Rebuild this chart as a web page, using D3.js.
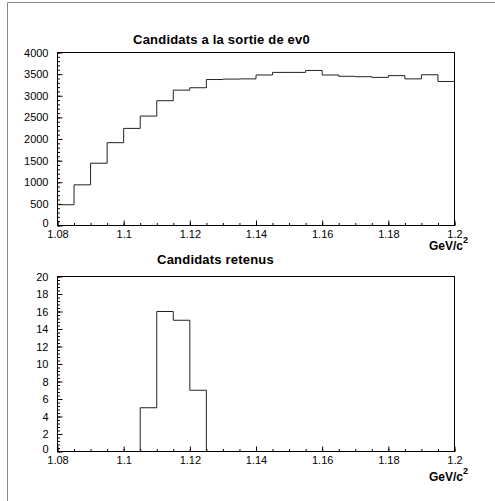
<!DOCTYPE html>
<html>
<head>
<meta charset="utf-8">
<script src="https://cdn.jsdelivr.net/npm/d3@7"></script>
<style>
  body { margin: 0; background: #fff; }
  svg { display: block; font-family: "Liberation Sans", Arial, sans-serif; }
  .axis text { font-size: 11px; fill: #000; }
  .axis line { stroke: #000; }
  .title { font-size: 13px; font-weight: bold; letter-spacing: 0.2px; }
  .unit { font-size: 12px; font-weight: bold; }
</style>
</head>
<body>
<svg id="chart" width="495" height="501"></svg>
<script>
// bin edges: 24 bins of 0.005 GeV/c^2 from 1.08 to 1.2
const binStart = 1.08;
const binWidth = 0.005;

// "Candidats a la sortie de ev0"
const allCandidates = [480, 940, 1440, 1915, 2245, 2530, 2885, 3130, 3185, 3375, 3385, 3390,
                       3480, 3540, 3540, 3585, 3480, 3450, 3440, 3425, 3465, 3390, 3485, 3330];

// "Candidats retenus"
const keptCandidates = [0, 0, 0, 0, 0, 5, 16, 15, 7, 0, 0, 0,
                        0, 0, 0, 0, 0, 0, 0, 0, 0, 0, 0, 0];

const xTicks = [1.08, 1.1, 1.12, 1.14, 1.16, 1.18, 1.2];
const topYTicks = [0, 500, 1000, 1500, 2000, 2500, 3000, 3500, 4000];
const bottomYTicks = [0, 2, 4, 6, 8, 10, 12, 14, 16, 18, 20];

class Histo {

  constructor(_config, _data) {
    this.config = {
      parent: _config.parent,
      left: _config.left,
      top: _config.top,
      width: _config.width,
      height: _config.height,
      title: _config.title,
      titleX: _config.titleX,
      titleY: _config.titleY,
      unitY: _config.unitY,
      yMax: _config.yMax,
      yTicks: _config.yTicks,
      yMinorStep: _config.yMinorStep
    }
    this.data = _data;
    this.initVis();
  }

  initVis() {
    let vis = this;

    vis.xScale = d3.scaleLinear()
        .domain([xTicks[0], xTicks[xTicks.length - 1]])
        .range([0, vis.config.width]);

    vis.yScale = d3.scaleLinear()
        .domain([0, vis.config.yMax])
        .range([vis.config.height, 0]);

    vis.chart = vis.config.parent.append('g')
        .attr('transform', `translate(${vis.config.left},${vis.config.top})`);

    vis.updateVis();
  }

  updateVis() {
    let vis = this;

    // minor ticks every 0.005 on x, yMinorStep on y
    vis.xMinor = d3.range(0, 25).map(i => +(binStart + i * binWidth).toFixed(3));
    vis.yMinor = d3.range(0, vis.config.yMax + 1e-9, vis.config.yMinorStep);

    // step outline of the histogram
    vis.points = [[binStart, 0]];
    vis.data.forEach((v, i) => vis.points.push([binStart + i * binWidth, v]));
    vis.points.push([binStart + vis.data.length * binWidth, vis.data[vis.data.length - 1]]);
    vis.points.push([binStart + vis.data.length * binWidth, 0]);

    vis.renderVis();
  }

  renderVis() {
    let vis = this;
    const w = vis.config.width, h = vis.config.height;

    // minor ticks
    vis.chart.append('g')
        .attr('class', 'axis')
        .attr('transform', `translate(0,${h})`)
        .call(d3.axisBottom(vis.xScale).tickValues(vis.xMinor).tickSize(-2.5).tickSizeOuter(0).tickFormat(''))
        .call(g => g.select('.domain').remove());

    vis.chart.append('g')
        .attr('class', 'axis')
        .call(d3.axisLeft(vis.yScale).tickValues(vis.yMinor).tickSize(-2.5).tickSizeOuter(0).tickFormat(''))
        .call(g => g.select('.domain').remove());

    // major ticks with labels
    vis.chart.append('g')
        .attr('class', 'axis x-axis')
        .attr('transform', `translate(0,${h})`)
        .call(d3.axisBottom(vis.xScale).tickValues(xTicks).tickSize(-5).tickPadding(5).tickFormat(d3.format('')))
        .call(g => g.select('.domain').remove());

    vis.chart.append('g')
        .attr('class', 'axis y-axis')
        .call(d3.axisLeft(vis.yScale).tickValues(vis.config.yTicks).tickSize(-5).tickPadding(9).tickFormat(d3.format('')))
        .call(g => g.select('.domain').remove())
        .call(g => g.selectAll('.tick').filter(d => d === 0).select('text').attr('y', -3));

    // histogram
    vis.chart.append('path')
        .datum(vis.points)
        .attr('fill', 'none')
        .attr('stroke', '#222')
        .attr('stroke-width', 1)
        .attr('d', d3.line()
            .x(d => vis.xScale(d[0]))
            .y(d => vis.yScale(d[1]))
            .curve(d3.curveStepAfter));

    // frame
    vis.chart.append('rect')
        .attr('width', w)
        .attr('height', h)
        .attr('fill', 'none')
        .attr('stroke', '#000');

    vis.config.parent.append('text')
        .attr('class', 'title')
        .attr('x', vis.config.titleX)
        .attr('y', vis.config.titleY)
        .attr('text-anchor', 'middle')
        .text(vis.config.title);

    const unit = vis.config.parent.append('text')
        .attr('class', 'unit')
        .attr('x', 429)
        .attr('y', vis.config.unitY);
    unit.append('tspan').text('GeV/c');
    unit.append('tspan').attr('dy', -7).style('font-size', '9px').text('2');
  }
}

const svg = d3.select('#chart');

// outer page border (left and top only)
svg.append('path')
    .attr('d', 'M7.5,501V2.5H495')
    .attr('fill', 'none')
    .attr('stroke', '#8a8a8a');

new Histo({
  parent: svg, left: 57.5, top: 52.5, width: 397, height: 173,
  title: 'Candidats a la sortie de ev0', titleX: 221.5, titleY: 44,
  unitY: 250, yMax: 4000, yTicks: topYTicks, yMinorStep: 100
}, allCandidates);

new Histo({
  parent: svg, left: 57.5, top: 276.5, width: 397, height: 175,
  title: 'Candidats retenus', titleX: 215.5, titleY: 264,
  unitY: 481, yMax: 20, yTicks: bottomYTicks, yMinorStep: 0.4
}, keptCandidates);
</script>
</body>
</html>
